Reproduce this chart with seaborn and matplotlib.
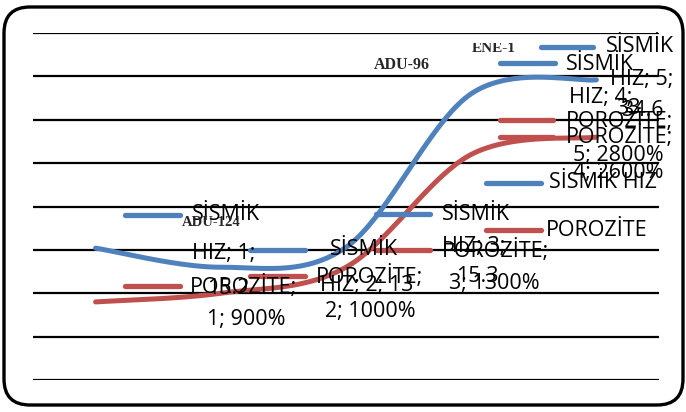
import numpy as np
import pandas as pd
import matplotlib
matplotlib.use("Agg")
import matplotlib.pyplot as plt
import seaborn as sns
from matplotlib.patches import FancyBboxPatch
from matplotlib.lines import Line2D
from matplotlib.transforms import IdentityTransform, Bbox

# ---- data ----
categories = [1, 2, 3, 4, 5]
sismik_hiz = [15.2, 13, 15.3, 33, 34.6]
porozite = [9, 10, 13, 26, 28]          # shown as percent: 900% ... 2800%
well_names = ["ADU-124", "ADU-96", "ENE-1"]
series_names = ["SİSMİK HIZ", "POROZİTE"]
y_ticks = [0, 5, 10, 15, 20, 25, 30, 35, 40]

BLUE = "#4F81BD"
RED = "#C0504D"
W, H = 686, 412
FS = 15.5

sns.set_theme(style="white")
plt.rcParams['font.family'] = ['Open Sans', 'DejaVu Sans']

fig = plt.figure(figsize=(W / 100, H / 100), dpi=100)
ax = fig.add_axes([33 / W, (H - 380) / H, 626 / W, 347 / H])
ax.set_xlim(0.5, 5.5)
ax.set_ylim(0, 40)
ax.set_yticks(y_ticks)
ax.set_xticks([])
ax.tick_params(left=False, labelleft=False)
ax.grid(axis="y", color="black", lw=1.6)
for s in ax.spines.values():
    s.set_visible(False)


def smooth(xs, ys, n=40):
    # Excel-style smoothed line: cubic Bezier with Catmull-Rom control points
    P = np.column_stack([xs, ys]).astype(float)
    ext = np.vstack([P[0], P, P[-1]])
    out = []
    t = np.linspace(0, 1, n)[:, None]
    for i in range(len(P) - 1):
        p0, p3 = ext[i + 1], ext[i + 2]
        c1 = p0 + (ext[i + 2] - ext[i]) / 6
        c2 = p3 - (ext[i + 3] - ext[i + 1]) / 6
        seg = ((1 - t) ** 3) * p0 + 3 * ((1 - t) ** 2) * t * c1 + 3 * (1 - t) * t ** 2 * c2 + t ** 3 * p3
        out.append(seg if i == 0 else seg[1:])
    arr = np.vstack(out)
    return arr[:, 0], arr[:, 1]


for vals, col, name in [(sismik_hiz, BLUE, series_names[0]), (porozite, RED, series_names[1])]:
    sx, sy = smooth(categories, vals)
    df = pd.DataFrame({"x": sx, "y": sy})
    sns.lineplot(data=df, x="x", y="y", ax=ax, color=col, lw=3.6, sort=False,
                 estimator=None, solid_capstyle="round", zorder=3)
ax.set_xlabel("")
ax.set_ylabel("")


def fx(px):
    return px / W


def fy(py):
    return 1 - py / H


def seg(x0, x1, y, c):
    fig.add_artist(Line2D([fx(x0), fx(x1)], [fy(y), fy(y)], color=c, lw=3.8,
                          solid_capstyle="round", transform=fig.transFigure, zorder=4))


def txt(x, y, s, **kw):
    fig.text(fx(x), fy(y), s, ha="left", va="center", fontsize=FS, color="black", zorder=5, **kw)


sis = series_names[0].split()[0]
hiz = series_names[0].split()[1]
por = series_names[1]

# legend markers
seg(541, 593, 47, BLUE)
seg(500, 555, 63, BLUE)
seg(500, 553, 120, RED)
seg(500, 553, 137, RED)
seg(486, 541, 183, BLUE)
seg(486, 541, 230, RED)
seg(376, 430, 214, BLUE)
seg(376, 430, 250, RED)
seg(125, 180, 215, BLUE)
seg(125, 180, 286, RED)
seg(250, 305, 250, BLUE)
seg(250, 305, 276, RED)

# data labels / legend texts
txt(606, 47, sis)
txt(566, 64, sis)
txt(610, 80, f"{hiz}; {categories[4]};")
txt(569, 97, f"{hiz}; {categories[3]};")
txt(621, 110, f"{sismik_hiz[4]}")
txt(616, 108, f"{sismik_hiz[3]}")
txt(566, 120, f"{por};")
txt(566, 137, f"{por};")
txt(573, 155, f"{categories[4]}; {porozite[4] * 100}%")
txt(573, 172, f"{categories[3]}; {porozite[3] * 100}%")
txt(549, 183, series_names[0])
txt(546, 230, series_names[1])
txt(442, 214, sis)
txt(442, 247, f"{hiz}; {categories[2]};")
txt(442, 250, f"{por};")
txt(456, 277, f"{sismik_hiz[2]}")
txt(449, 284, f"{categories[2]}; {porozite[2] * 100}%")
txt(192, 215, sis)
txt(192, 253, f"{hiz}; {categories[0]};")
txt(207, 288, f"{sismik_hiz[0]}")
txt(190, 286, f"{por};")
txt(207, 319, f"{categories[0]}; {porozite[0] * 100}%")
txt(330, 250, sis)
txt(316, 276, f"{por};")
txt(320, 285, f"{hiz}; {categories[1]}; {sismik_hiz[1]}")
txt(325, 311, f"{categories[1]}; {porozite[1] * 100}%")

# well names
for name, (x, y, fs) in zip(well_names, [(211, 222, 10.5), (402, 65, 11.5), (494, 48, 11)]):
    t = fig.text(fx(x), fy(y), name, ha="center", va="center", fontsize=fs,
                 fontweight="bold", family=["Liberation Serif", "DejaVu Serif"], zorder=5)
    if name == well_names[2]:
        t.set_clip_box(Bbox.from_extents(0, 0, W, H - 43))
        t.set_clip_on(True)

# rounded chart border (pixel coordinates)
border = FancyBboxPatch((4, 7), 679, 398, boxstyle="round,pad=0,rounding_size=26",
                        transform=IdentityTransform(), fill=False, ec="black", lw=2.4, zorder=10)
fig.add_artist(border)

fig.savefig("out.png", dpi=100)
